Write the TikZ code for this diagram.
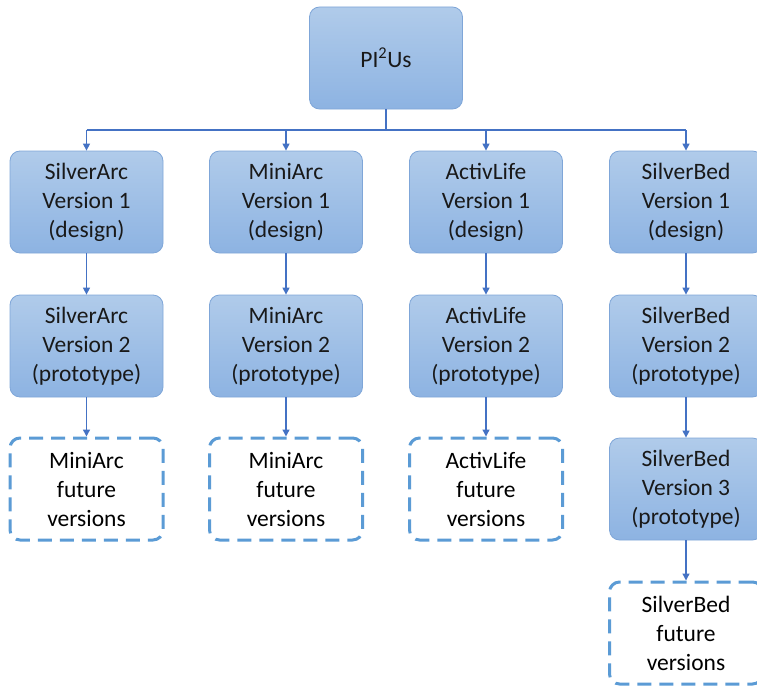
\documentclass[tikz,border=0pt]{standalone}
\usepackage{fontspec}
\setmainfont{Carlito}
\usetikzlibrary{arrows.meta}
\definecolor{boxtop}{HTML}{B0CBEA}
\definecolor{boxbot}{HTML}{8DB3E2}
\definecolor{boxline}{HTML}{7FA6D8}
\definecolor{dashline}{HTML}{5B9BD5}
\definecolor{arrowc}{HTML}{4472C4}
\tikzset{
  solidbox/.style={rectangle, rounded corners=10pt, minimum width=153pt, minimum height=102pt,
    top color=boxtop, bottom color=boxbot, draw=boxline, line width=0.8pt,
    align=center, font=\fontsize{23.5}{29}\selectfont, text=black!90, inner sep=0pt},
  futurebox/.style={rectangle, rounded corners=10pt, minimum width=153pt, minimum height=102pt,
    draw=dashline, line width=3pt, dash pattern=on 14pt off 8pt, fill=white,
    align=center, font=\fontsize{23.5}{29}\selectfont, text=black, inner sep=0pt},
  link/.style={draw=arrowc, line width=1.4pt, -{Triangle[length=7pt,width=7pt]}},
  busline/.style={draw=arrowc, line width=1.4pt},
}
\begin{document}
\begin{tikzpicture}[x=1pt,y=-1pt]
\useasboundingbox (0,0) rectangle (757,685);
\clip (0,0) rectangle (757,685);
\node[solidbox] (root) at (386,58) {PI\textsuperscript{2}Us};
\node[solidbox] (a1) at (86.5,202) {SilverArc\\Version 1\\(design)};
\node[solidbox] (b1) at (286,202) {MiniArc\\Version 1\\(design)};
\node[solidbox] (c1) at (486,202) {ActivLife\\Version 1\\(design)};
\node[solidbox] (d1) at (686,202) {SilverBed\\Version 1\\(design)};
\node[solidbox] (a2) at (86.5,346) {SilverArc\\Version 2\\(prototype)};
\node[solidbox] (b2) at (286,346) {MiniArc\\Version 2\\(prototype)};
\node[solidbox] (c2) at (486,346) {ActivLife\\Version 2\\(prototype)};
\node[solidbox] (d2) at (686,346) {SilverBed\\Version 2\\(prototype)};
\node[futurebox] (a3) at (86.5,489) {MiniArc\\future\\versions};
\node[futurebox] (b3) at (286,489) {MiniArc\\future\\versions};
\node[futurebox] (c3) at (486,489) {ActivLife\\future\\versions};
\node[solidbox] (d3) at (686,489) {SilverBed\\Version 3\\(prototype)};
\node[futurebox] (d4) at (686,633) {SilverBed\\future\\versions};
\coordinate (bus) at (386,130);
\draw[busline] (root.south) -- (bus);
\draw[busline] (a1.north |- bus) -- (d1.north |- bus);
\foreach \n in {a1,b1,c1,d1} {\draw[link] (\n.north |- bus) -- (\n.north);}
\draw[link] (a1) -- (a2);
\draw[link] (b1) -- (b2);
\draw[link] (c1) -- (c2);
\draw[link] (d1) -- (d2);
\draw[link] (a2) -- (a3);
\draw[link] (b2) -- (b3);
\draw[link] (c2) -- (c3);
\draw[link] (d2) -- (d3);
\draw[link] (d3) -- (d4);
\end{tikzpicture}
\end{document}
